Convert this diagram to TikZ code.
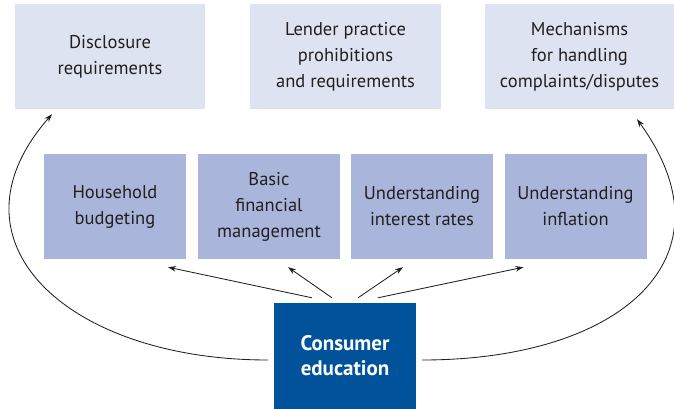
\documentclass[tikz,border=0pt]{standalone}
\usepackage{fontspec}
\setmainfont{PT Sans}
\usetikzlibrary{arrows.meta}
\definecolor{palebox}{RGB}{221,227,240}
\definecolor{skillbox}{RGB}{169,181,218}
\definecolor{coreblue}{RGB}{0,82,155}
\definecolor{inktext}{RGB}{35,31,32}

\begin{document}
\begin{tikzpicture}
    [x=1pt, y=1pt,
    rule/.style={fill=palebox, text=inktext, minimum height=105pt,
      align=center, font=\fontsize{18.5}{26}\selectfont, inner sep=0pt},
    skill/.style={fill=skillbox, text=inktext, minimum width=142pt,
      minimum height=105pt, align=center,
      font=\fontsize{18.5}{26}\selectfont, inner sep=0pt},
    core/.style={fill=coreblue, text=white, minimum width=142pt,
      minimum height=106pt, align=center,
      font=\fontsize{21}{25}\selectfont\bfseries, inner sep=0pt},
    link/.style={draw=inktext, line width=0.85pt,
      -{Stealth[length=8pt, width=5.5pt]}}]
  \useasboundingbox (0,0) rectangle (674,409);

  \node [rule, minimum width=190pt] (disc) at (110,352.5) {Disclosure\\ requirements};
  \node [rule, minimum width=191pt] (lend) at (345.5,352.5) {Lender practice\\ prohibitions\\ and requirements};
  \node [rule, minimum width=189pt] (mech) at (579.5,352.5) {Mechanisms\\ for handling\\ complaints/disputes};

  \node [skill] (budg) at (115,202.5) {Household\\ budgeting};
  \node [skill] (fin) at (269,202.5) {Basic\\ financial\\ management};
  \node [skill] (rate) at (422,202.5) {Understanding\\ interest rates};
  \node [skill] (infl) at (575.5,202.5) {Understanding\\ inflation};

  \node [core] (edu) at (345,53) {Consumer\\ education};

  \draw [link] ([xshift=-33pt, yshift=5pt]edu.north) -- ([xshift=53pt, yshift=-8pt]budg.south);
  \draw [link] ([xshift=-13pt, yshift=5pt]edu.north) -- ([xshift=19pt, yshift=-8pt]fin.south);
  \draw [link] ([xshift=13pt, yshift=5pt]edu.north) -- ([xshift=-19pt, yshift=-8pt]rate.south);
  \draw [link] ([xshift=33pt, yshift=5pt]edu.north) -- ([xshift=-52pt, yshift=-8pt]infl.south);

  \draw [link] ([xshift=-6pt, yshift=-4pt]edu.west) .. controls +(-200,0) and +(-112,-127.5) .. ([xshift=-58pt, yshift=-5pt]disc.south);
  \draw [link] ([xshift=6pt, yshift=-4pt]edu.east) .. controls +(200,0) and +(100,-137.7) .. ([xshift=57.5pt, yshift=-10pt]mech.south);
\end{tikzpicture}
\end{document}
